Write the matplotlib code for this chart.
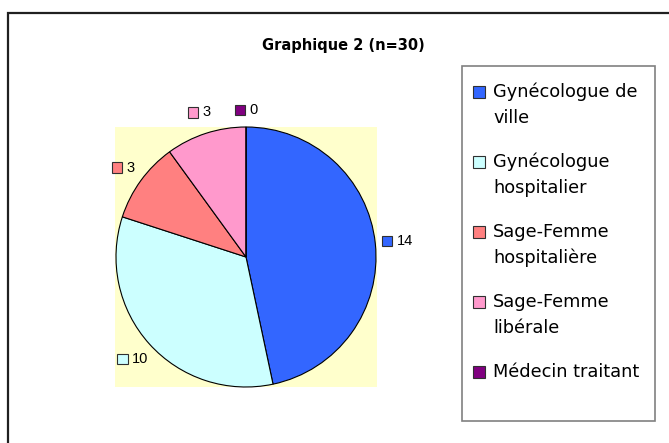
import numpy as np
import matplotlib.pyplot as plt
from matplotlib.patches import Rectangle
from matplotlib.offsetbox import AnnotationBbox, DrawingArea, HPacker, TextArea

# --- Données ---
titre = "Graphique 2 (n=30)"
categories = ["Gynécologue de\nville", "Gynécologue\nhospitalier", "Sage-Femme\nhospitalière",
              "Sage-Femme\nlibérale", "Médecin traitant"]
valeurs = [14, 10, 3, 3, 0]
couleurs = ["#3366FF", "#CCFFFF", "#FF8080", "#FF99CC", "#800080"]

W, H = 669, 443
fig = plt.figure(figsize=(W / 100, H / 100), dpi=100)
fig.patch.set_facecolor("white")

# calque en coordonnées pixels pour cadre, titre et légende
calque = fig.add_axes([0, 0, 1, 1])
calque.set_xlim(0, W)
calque.set_ylim(H, 0)
calque.axis("off")

# cadre extérieur (seuls le haut et la gauche sont visibles)
calque.plot([8, 8, W], [H, 13, 13], color="#202020", lw=1.6, solid_joinstyle="miter")

calque.text(343, 45, titre, ha="center", va="center", fontsize=10.5, fontweight="bold")

# --- Légende ---
calque.add_patch(Rectangle((462, 66), 193, 355, facecolor="white", edgecolor="#808080", lw=1.2))
for i, (lab, col) in enumerate(zip(categories, couleurs)):
    y = 92 + i * 70
    calque.add_patch(Rectangle((473, y - 6), 12, 12, facecolor=col, edgecolor="#303030", lw=0.8))
    for j, ligne in enumerate(lab.split("\n")):
        calque.text(493, y + j * 26, ligne, ha="left", va="center", fontsize=12.8)

# --- Camembert ---
ax = fig.add_axes([115 / W, (H - 387) / H, 262 / W, 260 / H])
wedges, _ = ax.pie(valeurs, colors=couleurs, startangle=90, counterclock=False,
                   wedgeprops=dict(edgecolor="black", linewidth=0.8))
ax.set_frame_on(True)
for s in ax.spines.values():
    s.set_visible(False)
ax.set_facecolor("#FFFFCC")
ax.set_xlim(-1.007, 1.007)
ax.set_ylim(-1.0, 1.0)

# étiquettes de valeurs (carré de couleur + nombre), à l'extérieur
for w, v, col in zip(wedges, valeurs, couleurs):
    ang = np.deg2rad((w.theta1 + w.theta2) / 2)
    r = 1.17 if v > 0 else 1.13
    da = DrawingArea(7.5, 7.5)
    da.add_artist(Rectangle((0, 0), 7.5, 7.5, facecolor=col, edgecolor="#303030", lw=0.8))
    ta = TextArea(str(v), textprops=dict(fontsize=10.5, family="Liberation Sans"))
    box = HPacker(children=[da, ta], align="center", pad=0, sep=3)
    ab = AnnotationBbox(box, (r * np.cos(ang), r * np.sin(ang)), frameon=False,
                        box_alignment=(0.5, 0.5), annotation_clip=False, pad=0)
    ax.add_artist(ab)

fig.savefig("out.png", dpi=100)
